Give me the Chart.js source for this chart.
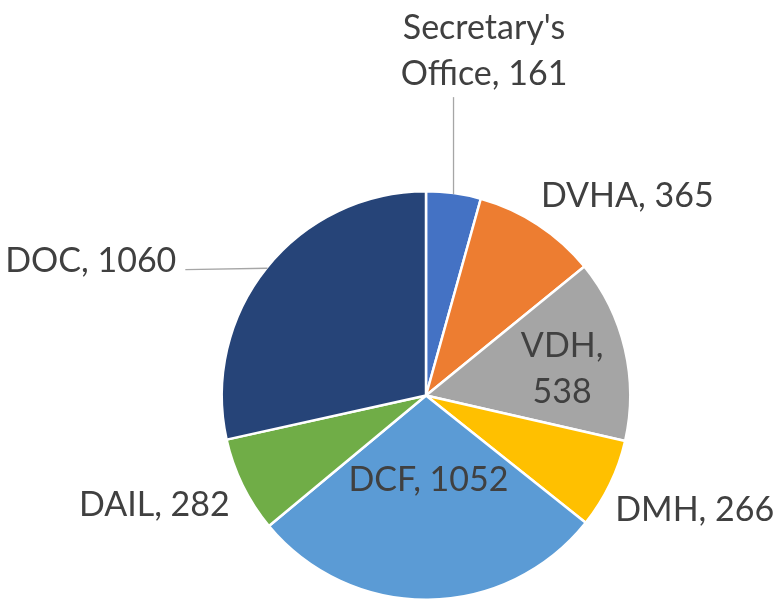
<!DOCTYPE html>
<html>
<head>
<meta charset="utf-8">
<script src="https://cdn.jsdelivr.net/npm/chart.js@4/dist/chart.umd.min.js"></script>
<style>
  html, body { margin: 0; padding: 0; background: #ffffff; }
  #wrap { width: 780px; height: 601px; }
</style>
</head>
<body>
<div id="wrap"><canvas id="c" width="780" height="601"></canvas></div>
<script>
const categories = ["Secretary's Office", "DVHA", "VDH", "DMH", "DCF", "DAIL", "DOC"];
const values = [161, 365, 538, 266, 1052, 282, 1060];
const colors = ["#4472C4", "#ED7D31", "#A5A5A5", "#FFC000", "#5B9BD5", "#70AD47", "#264478"];

// label placement (style/layout only): radial factor, alignment, pixel nudges
const labelLayout = [
  { k: 1.0, align: 'center', dx: 30.5, dy: -155, wrap: true,  leader: 'up' },
  { k: 1.1, align: 'left',   dx: -7.5, dy: -1.3, wrap: false, leader: null },
  { k: 0.65, align: 'center', dx: 7.5, dy: -8.7, wrap: true,  leader: null },
  { k: 1.1, align: 'left',   dx: -12.2, dy: 28.2, wrap: false, leader: null },
  { k: 0.45, align: 'center', dx: 1.5, dy: 3.8, wrap: false, leader: null },
  { k: 1.1, align: 'right',  dx: 4.5, dy: 21.8, wrap: false, leader: null },
  { k: 1.0, align: 'right',  dx: -91.2, dy: 3.4, wrap: false, leader: 'side' }
];
const labelFont = '34px Lato';
const lineH = 46;

const labelPlugin = {
  id: 'pieLabels',
  afterDatasetsDraw(chart) {
    const ctx = chart.ctx;
    const meta = chart.getDatasetMeta(0);
    ctx.save();
    ctx.font = labelFont;
    ctx.fillStyle = '#404040';
    ctx.textBaseline = 'alphabetic';
    meta.data.forEach((arc, i) => {
      const p = arc.getProps(['x', 'y', 'startAngle', 'endAngle', 'outerRadius'], true);
      const a = (p.startAngle + p.endAngle) / 2;
      const R = p.outerRadius - 1;
      const L = labelLayout[i];
      const text = categories[i] + ', ' + values[i];
      let lines = [text];
      if (L.wrap) {
        const s = text.indexOf(' ');
        lines = [text.slice(0, s), text.slice(s + 1)];
      }
      const bx = p.x + Math.cos(a) * R * L.k + L.dx;
      const by = p.y + Math.sin(a) * R * L.k + L.dy;
      ctx.textAlign = L.align;
      lines.forEach((ln, j) => ctx.fillText(ln, bx, by + j * lineH));
      if (L.leader) {
        const ex = p.x + Math.cos(a) * R;
        const ey = p.y + Math.sin(a) * R;
        ctx.strokeStyle = '#A6A6A6';
        ctx.lineWidth = 1.3;
        ctx.beginPath();
        if (L.leader === 'up') {
          ctx.moveTo(ex, ey);
          ctx.lineTo(ex, by + (lines.length - 1) * lineH + 12);
        } else {
          ctx.moveTo(ex, ey);
          ctx.lineTo(bx + 9, by - 2);
        }
        ctx.stroke();
      }
    });
    ctx.restore();
  }
};

new Chart(document.getElementById('c'), {
  type: 'pie',
  data: {
    labels: categories,
    datasets: [{
      data: values,
      backgroundColor: colors,
      borderColor: '#ffffff',
      borderWidth: 2.5
    }]
  },
  options: {
    responsive: false,
    animation: false,
    layout: { padding: { top: 190, bottom: -3, left: 219, right: 147 } },
    plugins: {
      legend: { display: false },
      tooltip: { enabled: false }
    }
  },
  plugins: [labelPlugin]
});
</script>
</body>
</html>
